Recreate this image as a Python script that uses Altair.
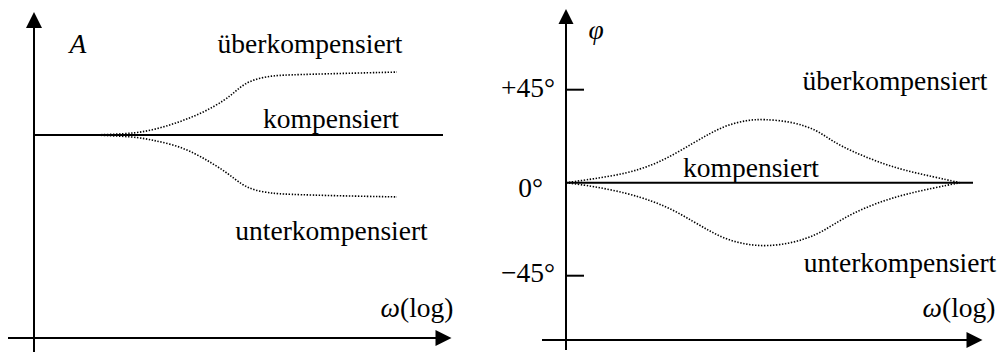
import altair as alt
import pandas as pd

FONT = "Liberation Serif"
SIZE = 27.5

# ---- Amplitude response: log frequency in decades, relative gain A (1 = compensated)
amp_over_w = [1.16, 1.82, 2.22, 2.62, 3.02, 3.42, 3.82, 4.02, 4.22, 4.48, 4.76, 5.02, 6.12, 7.26]
amp_over = [1.0, 1.005, 1.016, 1.041, 1.074, 1.115, 1.172, 1.213, 1.255, 1.279, 1.291, 1.296, 1.303, 1.310]
amp_under_w = [1.16, 2.02, 2.36, 2.82, 3.22, 3.56, 3.88, 4.16, 4.42, 4.76, 5.02, 6.12, 7.26]
amp_under = [1.0, 0.992, 0.975, 0.951, 0.910, 0.861, 0.811, 0.754, 0.726, 0.713, 0.708, 0.700, 0.695]

# ---- Phase response: log frequency in decades, phase in degrees
ph_over_w = [0, 0.54, 1.22, 1.74, 2.14, 2.54, 2.88, 3.22, 3.62, 3.94, 4.54, 5.02, 5.34, 5.74, 6.22, 6.74, 7.34, 7.88]
ph_over = [0, 1.8, 4.5, 8.6, 13.4, 19.1, 23.9, 27.9, 30.3, 30.8, 29.5, 25.5, 19.8, 15.0, 10.2, 6.1, 2.9, 0]
ph_under_w = [0, 0.54, 1.22, 1.74, 2.14, 2.54, 2.88, 3.22, 3.62, 4.02, 4.54, 5.02, 5.34, 5.74, 6.22, 6.74, 7.34, 7.88]
ph_under = [0, -1.7, -5.0, -9.0, -13.1, -18.7, -23.5, -27.6, -30.0, -30.8, -29.2, -25.2, -20.3, -14.7, -9.8, -5.8, -2.6, 0]
phase_ticks = [45, -45]
phase_tick_labels = ["+45°", "−45°"]

# axis domains (decades / gain / degrees)
amp_x_dom = [-0.68, 9.12]
amp_y_dom = [-0.074, 1.665]
ph_x_dom = [-1.52, 8.74]
ph_y_dom = [-82.4, 88.4]

UP = "M0,-1L1,1L-1,1Z"
RIGHT = "M1,0L-1,-1L-1,1Z"


def panel(xdom, ydom, width, segs, curves, arrows, texts):
    X = lambda f: alt.X(f, type="quantitative", axis=None,
                        scale=alt.Scale(domain=xdom, nice=False, zero=False))
    Y = lambda f: alt.Y(f, type="quantitative", axis=None,
                        scale=alt.Scale(domain=ydom, nice=False, zero=False))
    layers = []
    seg_df = pd.DataFrame(segs, columns=["x", "x2", "y", "y2"])
    layers.append(
        alt.Chart(seg_df).mark_rule(color="black", strokeWidth=2).encode(
            x=X("x"), x2=alt.X2("x2"), y=Y("y"), y2=alt.Y2("y2")
        )
    )
    for cx, cy in curves:
        df = pd.DataFrame({"w": cx, "v": cy})
        layers.append(
            alt.Chart(df).mark_line(
                color="black", strokeWidth=1.6, strokeDash=[1.4, 1.6],
                interpolate="basis"
            ).encode(x=X("w"), y=Y("v"), order=alt.Order("w:Q"))
        )
    for shape, ax, ay, sz in arrows:
        df = pd.DataFrame({"x": [ax], "y": [ay]})
        layers.append(
            alt.Chart(df).mark_point(shape=shape, filled=True, color="black",
                                     opacity=1, size=sz, strokeWidth=0).encode(
                x=X("x"), y=Y("y")
            )
        )
    for align, style, rows in texts:
        df = pd.DataFrame(rows, columns=["x", "y", "t"])
        layers.append(
            alt.Chart(df).mark_text(
                font=FONT, fontSize=SIZE, fontStyle=style, align=align,
                baseline="alphabetic", color="black"
            ).encode(x=X("x"), y=Y("y"), text=alt.Text("t:N"))
        )
    return alt.layer(*layers).properties(width=width, height=353)


left = panel(
    amp_x_dom, amp_y_dom, 490,
    segs=[
        [0, 0, -0.069, 1.55],      # A axis
        [-0.52, 8.15, 0, 0],       # frequency axis
        [0, 8.18, 1.0, 1.0],       # compensated response
    ],
    curves=[(amp_over_w, amp_over), (amp_under_w, amp_under)],
    arrows=[(UP, 0, 1.567, 256), (RIGHT, 8.19, 0, 256)],
    texts=[
        ("center", "italic", [[0.88, 1.404, "A"]]),
        ("center", "normal", [
            [5.52, 1.404, "überkompensiert"],
            [5.94, 1.034, "kompensiert"],
            [5.95, 0.483, "unterkompensiert"],
        ]),
        ("right", "italic", [[7.32, 0.103, "ω"]]),
        ("left", "normal", [[7.32, 0.103, "(log)"]]),
    ],
)

right = panel(
    ph_x_dom, ph_y_dom, 513,
    segs=[
        [0, 0, -81.0, 79.0],       # phase axis
        [-0.48, 8.12, -76.1, -76.1],  # frequency axis
        [0, 8.14, 0, 0],           # compensated response
        [0, 0.36, phase_ticks[0], phase_ticks[0]],
        [0, 0.36, phase_ticks[1], phase_ticks[1]],
    ],
    curves=[(ph_over_w, ph_over), (ph_under_w, ph_under)],
    arrows=[(UP, 0, 80.4, 225), (RIGHT, 8.17, -76.1, 256)],
    texts=[
        ("center", "italic", [[0.6, 69.5, "φ"]]),
        ("right", "normal", [
            [-0.22, phase_ticks[0] - 3.5, phase_tick_labels[0]],
            [-0.46, -6.9, "0°"],
            [-0.22, phase_ticks[1] - 3.1, phase_tick_labels[1]],
        ]),
        ("center", "normal", [
            [6.58, 44.9, "überkompensiert"],
            [3.7, 2.8, "kompensiert"],
            [6.68, -43.2, "unterkompensiert"],
        ]),
        ("right", "italic", [[7.52, -64.9, "ω"]]),
        ("left", "normal", [[7.52, -64.9, "(log)"]]),
    ],
)

chart = (
    alt.hconcat(left, right, spacing=0)
    .resolve_scale(x="independent", y="independent")
    .properties(padding=0, background="white")
    .configure_view(stroke=None)
)

chart.save("out.html", embed_options={"renderer": "svg", "actions": False})
